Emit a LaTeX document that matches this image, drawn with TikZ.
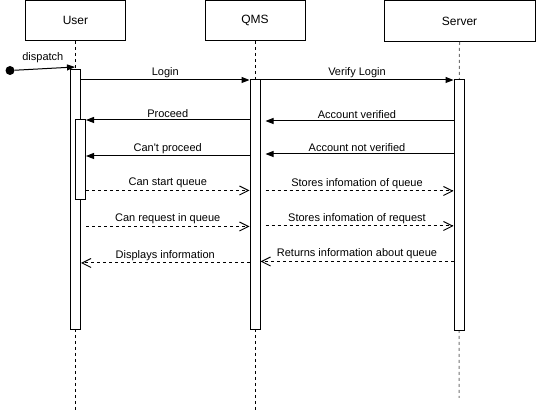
\documentclass[tikz,border=0pt]{standalone}
\usepackage{fontspec}
\setmainfont{Liberation Sans}
\usetikzlibrary{arrows.meta}

\tikzset{
  actor/.style={draw, line width=1pt, minimum width=100pt, minimum height=40pt, inner sep=0pt, font=\fontsize{12}{14}\selectfont},
  act/.style={draw, fill=white, line width=1pt, minimum width=10pt, inner sep=0pt},
  lifeline/.style={line width=1pt, dash pattern=on 3pt off 3pt},
  msg/.style={line width=1pt, -{Triangle[length=8pt,width=6pt]}},
  reply/.style={line width=1pt, dash pattern=on 3pt off 3pt, -{Straight Barb[length=9pt,width=9pt]}},
  lbl/.style={font=\fontsize{11}{13}\selectfont, inner sep=2pt}
}

\begin{document}
\begin{tikzpicture}[x=1pt, y=-1pt]
\useasboundingbox (0,0) rectangle (536,411);

% participants
\node[actor] (user) at (75.5,20.5) {User};
\node[actor] (qms) at (255,20.5) {QMS};
\node[actor, minimum width=151pt, minimum height=41pt] (server) at (459.5,21) {Server};

\coordinate (userend) at (75.5,410);
\coordinate (qmsend) at (255,410);
\coordinate (serverend) at (459,398);

% lifelines
\draw[lifeline] (user.south) -- (userend);
\draw[lifeline] (qms.south) -- (qmsend);
\draw[lifeline, black!55] (server.south) -- (serverend);

% activations
\node[act, minimum height=260pt] (uact) at (75.5,200) {};
\node[act, minimum height=80pt] (unest) at (80.5,160) {};
\node[act, minimum height=250pt] (qact) at (255,205) {};
\node[act, minimum height=251pt] (sact) at (459,205.5) {};

% dispatch
\node[circle, fill, inner sep=0pt, minimum size=9pt] (start) at (10,70.5) {};
\coordinate (dispin) at (75,67);
\draw[msg] (start) -- (dispin)
  node[lbl, midway, above=3pt, xshift=-2pt] {dispatch};

% messages
\draw[msg] (uact.east |- 0,80) -- (qact.west |- 0,80)
  node[lbl, midway, above] {Login};
\draw[msg] (qact.east |- 0,80) -- (sact.west |- 0,80)
  node[lbl, midway, above] {Verify Login};

\draw[msg] (qact.west |- 0,120) -- (unest.east |- 0,120)
  node[lbl, midway, above] {Proceed};
\draw[msg, shorten >=5pt] (sact.west |- 0,121) -- (qact.east |- 0,121)
  node[lbl, midway, above] {Account verified};

\draw[msg] (qact.west |- 0,156) -- (unest.east |- 0,156)
  node[lbl, midway, above] {Can\textquotesingle t proceed};
\draw[msg, shorten >=5pt] (sact.west |- 0,154) -- (qact.east |- 0,154)
  node[lbl, midway, above] {Account not verified};

\draw[reply] (unest.east |- 0,190.5) -- (qact.west |- 0,190.5)
  node[lbl, midway, above] {Can start queue};
\draw[reply, shorten <=5pt] (qact.east |- 0,191) -- (sact.west |- 0,191)
  node[lbl, midway, above] {Stores infomation of queue};

\draw[reply] (unest.east |- 0,226.5) -- (qact.west |- 0,226.5)
  node[lbl, midway, above] {Can request in queue};
\draw[reply, shorten <=5pt] (qact.east |- 0,226) -- (sact.west |- 0,226)
  node[lbl, midway, above] {Stores infomation of request};

\draw[reply] (qact.west |- 0,263) -- (uact.east |- 0,263)
  node[lbl, midway, above] {Displays information};
\draw[reply] (sact.west |- 0,261.5) -- (qact.east |- 0,261.5)
  node[lbl, midway, above] {Returns information about queue};

\end{tikzpicture}
\end{document}
